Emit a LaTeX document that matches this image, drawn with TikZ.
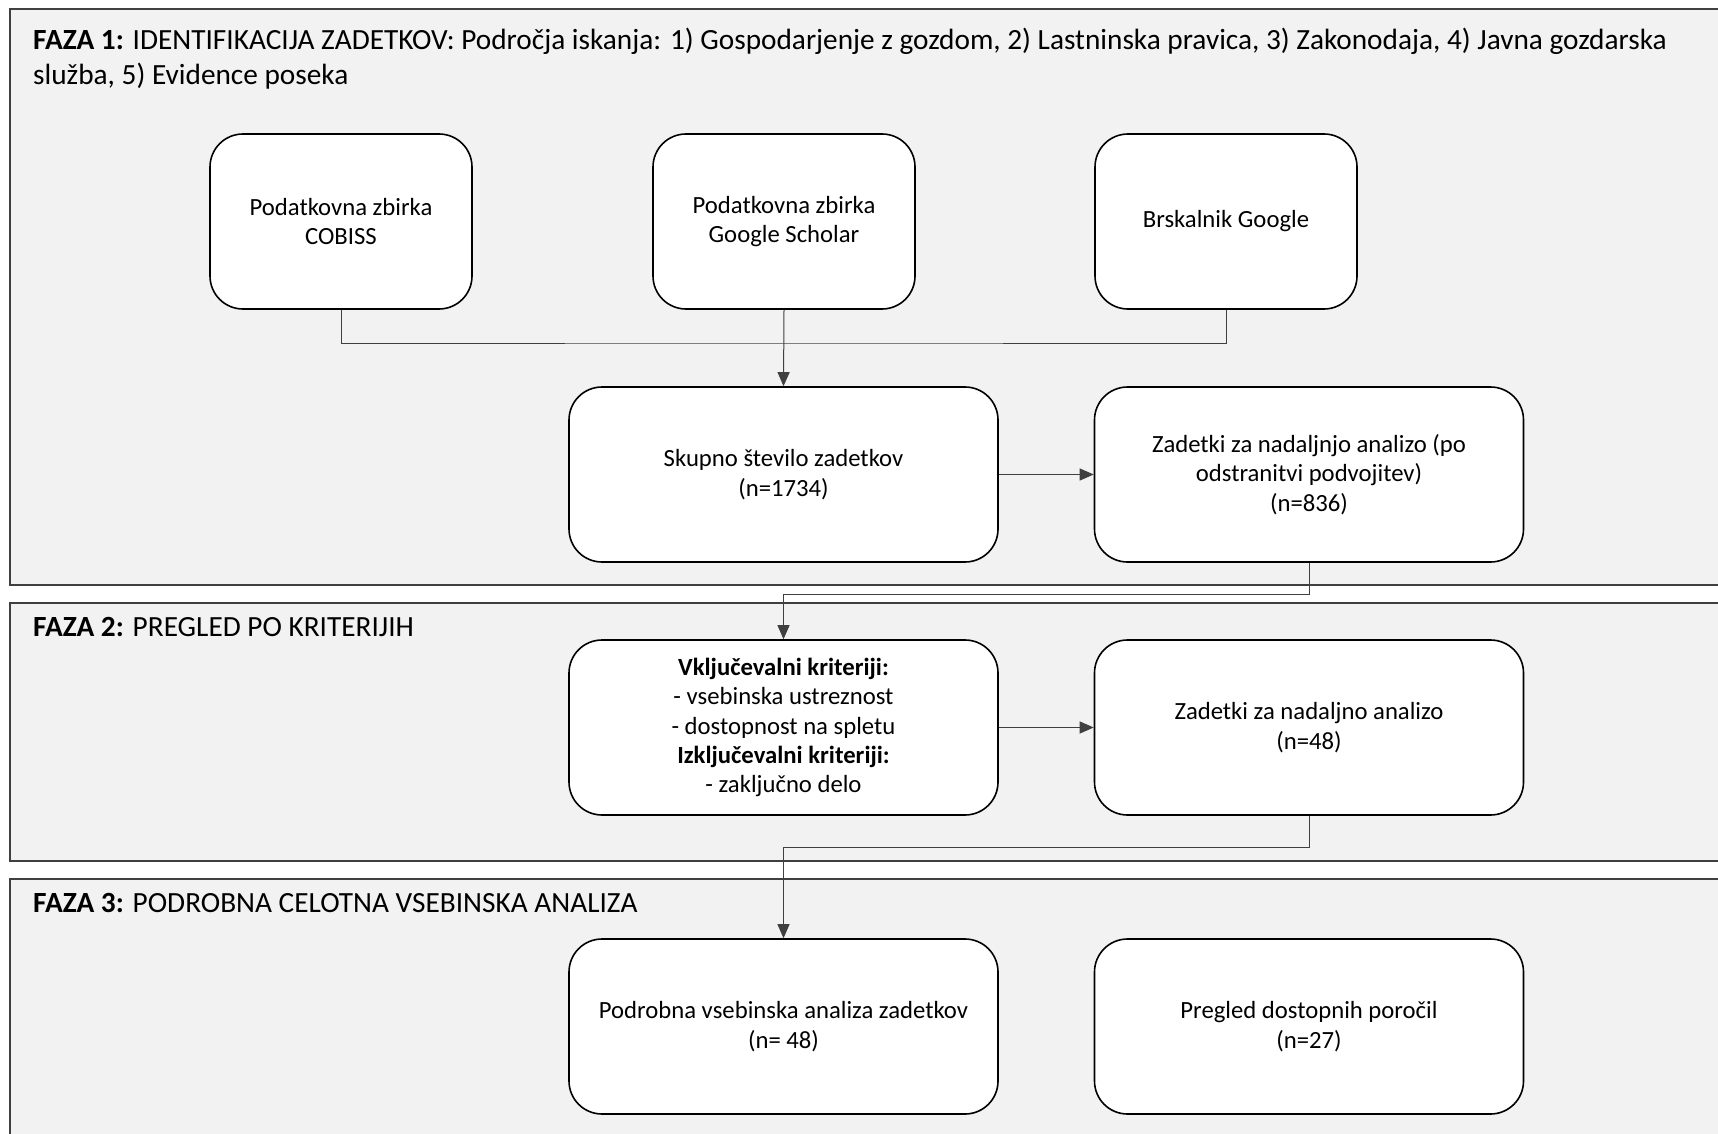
\documentclass[tikz,border=0pt]{standalone}
\usepackage{fontspec}
\setmainfont{Carlito}
\usetikzlibrary{arrows.meta}
\definecolor{panelgray}{HTML}{F2F2F2}
\definecolor{edgegray}{HTML}{404040}
\begin{document}
\begin{tikzpicture}[x=1pt, y=-1pt,
	panel/.style={draw=edgegray, fill=panelgray, line width=1.6pt},
	title/.style={anchor=north west, align=left, inner sep=0pt, font=\fontsize{29.3}{35}\selectfont},
	box/.style={draw=black, fill=white, shape=rectangle, rounded corners=33pt, minimum width=262pt, minimum height=175pt, align=center, line width=1.6pt, font=\fontsize{24.7}{29.4}\selectfont},
	widebox/.style={box, minimum width=429pt},
	link/.style={draw=edgegray, line width=1pt},
	arr/.style={link, -{Triangle[length=14pt, width=12pt]}}]
	\useasboundingbox (0,0) rectangle (1718,1134);
	\clip (0,0) rectangle (1718,1134);

	% faze
	\draw[panel] (10,9) rectangle (1740,585);
	\draw[panel] (10,603) rectangle (1740,861);
	\draw[panel] (10,879) rectangle (1740,1150);

	\node[title] (t_1) at (33,27.5) {\textbf{FAZA 1:} IDENTIFIKACIJA ZADETKOV: Področja iskanja: 1) Gospodarjenje z gozdom, 2) Lastninska pravica, 3) Zakonodaja, 4) Javna gozdarska\\služba, 5) Evidence poseka};
	\node[title] (t_2) at (33,617) {\textbf{FAZA 2:} PREGLED PO KRITERIJIH};
	\node[title] (t_3) at (33,893) {\textbf{FAZA 3:} PODROBNA CELOTNA VSEBINSKA ANALIZA};

	% viri
	\node[box] (s_1) at (341,221.5) {Podatkovna zbirka\\COBISS};
	\node[box] (s_2) at (784,221.5) {Podatkovna zbirka\\Google Scholar};
	\node[box] (s_3) at (1226,221.5) {Brskalnik Google};

	\node[widebox] (r_1) at (783.5,474.5) {Skupno število zadetkov\\(n=1734)};
	\node[widebox] (r_2) at (1309,474.5) {Zadetki za nadaljnjo analizo (po\\odstranitvi podvojitev)\\(n=836)};

	\node[widebox] (c_1) at (783.5,727.5) {\textbf{Vključevalni kriteriji:}\\- vsebinska ustreznost\\- dostopnost na spletu\\\textbf{Izključevalni kriteriji:}\\- zaključno delo};
	\node[widebox] (c_2) at (1309,727.5) {Zadetki za nadaljno analizo\\(n=48)};

	\node[widebox] (a_1) at (783.5,1026.5) {Podrobna vsebinska analiza zadetkov\\(n= 48)};
	\node[widebox] (a_2) at (1309,1026.5) {Pregled dostopnih poročil\\(n=27)};

	% povezave
	\coordinate (j_1) at (784,343);
	\coordinate (j_2) at (783.5,594);
	\coordinate (j_3) at (783.5,847);
	\draw[link] (s_1.south) |- (j_1) -| (s_3.south);
	\draw[arr] (s_2.south) -- (r_1.north);
	\draw[arr] (r_1.east) -- (r_2.west);
	\draw[arr] (r_2.south) |- (j_2) -- (c_1.north);
	\draw[arr] (c_1.east) -- (c_2.west);
	\draw[arr] (c_2.south) |- (j_3) -- (a_1.north);
\end{tikzpicture}
\end{document}
